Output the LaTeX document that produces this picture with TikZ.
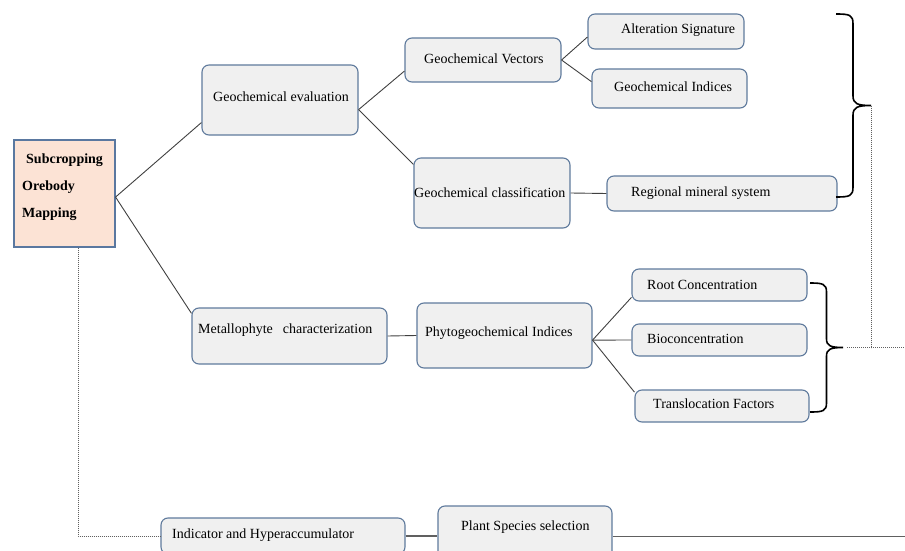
\documentclass[tikz,border=0pt]{standalone}
\usepackage{fontspec}
\setmainfont{Liberation Serif}
\usetikzlibrary{calc}
\definecolor{bordc}{HTML}{5F7A9C}
\definecolor{boxfill}{HTML}{F0F0F0}
\definecolor{peach}{HTML}{FCE3D5}
\definecolor{subborder}{HTML}{5A78A0}
\definecolor{linec}{HTML}{404040}
\definecolor{dashc}{HTML}{606060}
\tikzset{
  rbox/.style={draw=bordc, fill=boxfill, line width=1.1pt, rounded corners=7pt, inner sep=0pt},
  subbox/.style={draw=subborder, fill=peach, line width=1.1pt, inner sep=0pt},
  txt/.style={anchor=west, inner sep=0pt, font=\fontsize{14}{16}\selectfont, text height=14pt, text depth=3pt},
  conn/.style={draw=linec, line width=0.9pt},
  dotline/.style={draw=dashc, line width=0.9pt, dash pattern=on 1.3pt off 0.7pt},
  grayline/.style={draw=dashc, line width=1pt},
  bracestyle/.style={draw=black, line width=1.6pt},
}
\begin{document}
\begin{tikzpicture}[x=1pt,y=-1pt]
\useasboundingbox (0,0) rectangle (905,551);
\clip (0,0) rectangle (905,551);
% boxes
\node[subbox, minimum width=101pt, minimum height=107pt] (sub) at (64.5,193.5) {};
\node[rbox, minimum width=156pt, minimum height=70pt] (ge) at (280,100) {};
\node[rbox, minimum width=156pt, minimum height=44pt] (gv) at (483,60) {};
\node[rbox, minimum width=156pt, minimum height=35pt] (as) at (666,31.5) {};
\node[rbox, minimum width=155pt, minimum height=39pt] (gi) at (669.5,88.5) {};
\node[rbox, minimum width=156pt, minimum height=70pt] (gc) at (492,193) {};
\node[rbox, minimum width=230pt, minimum height=35pt] (rms) at (722,193.5) {};
\node[rbox, minimum width=195pt, minimum height=56pt] (mc) at (289.5,336) {};
\node[rbox, minimum width=175pt, minimum height=65pt] (pi) at (504.5,335.5) {};
\node[rbox, minimum width=175pt, minimum height=32pt] (rc) at (719.5,285) {};
\node[rbox, minimum width=175pt, minimum height=32pt] (bc) at (719.5,340) {};
\node[rbox, minimum width=174pt, minimum height=32pt] (tf) at (722,406) {};
\node[rbox, minimum width=244pt, minimum height=36pt] (ind) at (283,536) {};
\node[rbox, minimum width=174pt, minimum height=60pt] (ps) at (525,536) {};
% texts
\node[txt, font=\fontsize{14}{16}\selectfont\bfseries] (s1) at (26,158) {Subcropping};
\node[txt, font=\fontsize{14}{16}\selectfont\bfseries] (s2) at (22,185) {Orebody};
\node[txt, font=\fontsize{14}{16}\selectfont\bfseries] (s3) at (22,212) {Mapping};
\node[txt] (ge-t) at (213,96) {Geochemical evaluation};
\node[txt] (gv-t) at (424,58) {Geochemical Vectors};
\node[txt] (as-t) at (621,28) {Alteration Signature};
\node[txt] (gi-t) at (614,86) {Geochemical Indices};
\node[txt] (gc-t) at (414,192) {Geochemical classification};
\node[txt] (rms-t) at (631,191) {Regional mineral system};
\node[txt] (mc-t) at (198,328) {Metallophyte\hspace{10pt}characterization};
\node[txt] (pi-t) at (425,331) {Phytogeochemical Indices};
\node[txt] (rc-t) at (647,284) {Root Concentration};
\node[txt] (bc-t) at (647,338) {Bioconcentration};
\node[txt] (tf-t) at (653,403) {Translocation Factors};
\node[txt] (ind-t) at (172,533) {Indicator and Hyperaccumulator};
\node[txt] (ps-t) at (461,525) {Plant Species selection};
% connectors
\draw[conn] (sub.-4) -- (ge.196);
\draw[conn] (sub.-4) -- (mc.167);
\draw[conn] (ge.-7) -- (gv.188);
\draw[conn] (ge.-7) -- (gc.160);
\draw[conn] (gv.east) -- (as.184);
\draw[conn] (gv.east) -- (gi.175);
\draw[conn] (gc.east) -- (rms.west);
\draw[conn] (mc.east) -- (pi.west);
\draw[conn] (pi.-3) -- (rc.188);
\draw[conn] (pi.-3) -- (bc.west);
\draw[conn] (pi.-3) -- (tf.171);
% bottom row
\draw[dotline] (sub.-76) |- (ind.west);
\draw[grayline, line width=1.6pt] (ind.east) -- (ps.west);
\coordinate (rend) at (905,536);
\draw[grayline] (ps.east) -- (rend);
% braces
\draw[bracestyle] (836,14) .. controls (850,14) and (853,15) .. (853,24) -- (853,96)
  .. controls (853,104) and (858,105.5) .. (871,105.5)
  .. controls (858,105.5) and (853,107) .. (853,115) -- (853,187)
  .. controls (853,196) and (850,197) .. (836,197);
\coordinate (tb) at (871,105.5);
\draw[bracestyle] (810,283) .. controls (823,283) and (826.5,284) .. (826.5,292) -- (826.5,339)
  .. controls (826.5,346) and (831,347.5) .. (843,347.5)
  .. controls (831,347.5) and (826.5,349) .. (826.5,356) -- (826.5,403)
  .. controls (826.5,411) and (823,412) .. (810,412);
\coordinate (dh1) at (847,347.5);
\coordinate (dh2) at (905,347.5);
\draw[dotline] (tb) -- (tb |- dh2);
\draw[dotline] (dh1) -- (dh2);
\end{tikzpicture}
\end{document}
